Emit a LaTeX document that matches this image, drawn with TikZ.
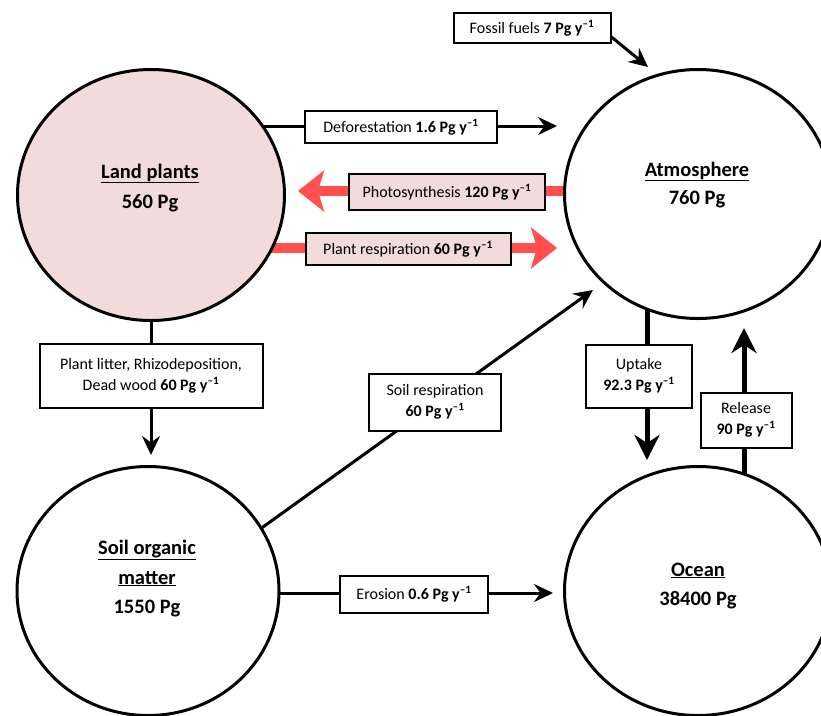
\documentclass[tikz,border=0pt]{standalone}
\usepackage{fontspec}
\setmainfont{Carlito}
\usetikzlibrary{arrows.meta,shapes.geometric}
\definecolor{poolpink}{HTML}{F2DCDB}
\definecolor{fluxred}{HTML}{FF5050}
\pgfdeclarelayer{background}
\pgfsetlayers{background,main}
\newcommand{\fluxval}[1]{\textbf{#1 Pg y\textsuperscript{–1}}}

\begin{document}
\begin{tikzpicture}[x=1pt,y=-1pt,
  pool/.style={ellipse,draw,line width=3pt,fill=white,inner sep=0pt,outer sep=0pt},
  pooltitle/.style={font=\fontsize{20.5}{24}\selectfont\bfseries,anchor=base,inner sep=0pt},
  fluxbox/.style={draw,line width=2pt,fill=white,inner sep=0pt,align=center,
    font=\fontsize{16}{21}\selectfont},
  blkarrow/.style={line width=3pt,-{Stealth[length=19pt,width=18pt,inset=6.5pt]}},
  bigarrow/.style={line width=5pt,-{Stealth[length=25pt,width=25pt,inset=8pt]}},
  redarrow/.style={line width=9.5pt,fluxred,-{Stealth[length=26pt,width=41pt,inset=6pt]}},
]
\useasboundingbox (0,0) rectangle (821,715);

% carbon pools
\node[pool,fill=poolpink,minimum width=267pt,minimum height=251pt] (land) at (151,195) {};
\node[pool,minimum width=267pt,minimum height=249pt] (atm) at (698,194) {};
\node[pool,minimum width=262pt,minimum height=249pt] (soil) at (148,591) {};
\node[pool,minimum width=267pt,minimum height=249pt] (ocean) at (698,591) {};

\node[pooltitle] (landname) at (150,178) {\underline{Land plants}};
\node[pooltitle] (landmass) at (150,208) {560 Pg};
\node[pooltitle] (atmname) at (697,176) {\underline{Atmosphere}};
\node[pooltitle] (atmmass) at (697,204) {760 Pg};
\node[pooltitle] (soilname1) at (147,554) {\underline{Soil organic}};
\node[pooltitle] (soilname2) at (147,584) {\underline{matter}};
\node[pooltitle] (soilmass) at (147,613) {1550 Pg};
\node[pooltitle] (oceanname) at (698,576) {\underline{Ocean}};
\node[pooltitle] (oceanmass) at (698,605) {38400 Pg};

% flux labels
\node[fluxbox,minimum width=157pt,minimum height=30pt] (ff) at (532,28) {Fossil fuels \fluxval{7}};
\node[fluxbox,minimum width=192pt,minimum height=32pt] (defo) at (401,127) {Deforestation \fluxval{1.6}};
\node[fluxbox,fill=poolpink,minimum width=196pt,minimum height=36pt] (photo) at (447,192) {Photosynthesis \fluxval{120}};
\node[fluxbox,fill=poolpink,minimum width=205pt,minimum height=32pt] (presp) at (408,249) {Plant respiration \fluxval{60}};
\node[fluxbox,minimum width=223pt,minimum height=64pt] (litter) at (151,376) {Plant litter, Rhizodeposition,\\Dead wood \fluxval{60}};
\node[fluxbox,minimum width=132pt,minimum height=57pt] (sresp) at (435,402) {Soil respiration\\\fluxval{60}};
\node[fluxbox,minimum width=106pt,minimum height=63pt] (uptake) at (639,376) {Uptake\\\fluxval{92.3}};
\node[fluxbox,minimum width=91pt,minimum height=55pt] (release) at (746,420) {Release\\\fluxval{90}};
\node[fluxbox,minimum width=148pt,minimum height=37pt] (erosion) at (414,594) {Erosion \fluxval{0.6}};

% arrow ends
\coordinate (defotip) at (557,126);
\coordinate (phtip) at (298,191);
\coordinate (prtip) at (557,248);
\coordinate (fftip) at (648,67);
\coordinate (littip) at (151,455);
\coordinate (srtip) at (593,290);
\coordinate (uptip) at (647,460);
\coordinate (reltip) at (744,328);
\coordinate (erotip) at (553,593);

% fluxes, drawn beneath pools and labels
\begin{pgfonlayer}{background}
\draw[blkarrow] (land.center |- defotip) -- (defotip);
\draw[redarrow] (atm.center |- phtip) -- (phtip);
\draw[redarrow] (land.center |- prtip) -- (prtip);
\draw[blkarrow] ([yshift=7pt]ff.south east) -- (fftip);
\draw[blkarrow] (land.south) -- (littip);
\draw[blkarrow] (soil.29) -- (srtip);
\draw[bigarrow] (atm.center -| uptip) -- (uptip);
\draw[bigarrow] (ocean.center -| reltip) -- (reltip);
\draw[blkarrow] (soil.center |- erotip) -- (erotip);
\end{pgfonlayer}
\end{tikzpicture}
\end{document}
